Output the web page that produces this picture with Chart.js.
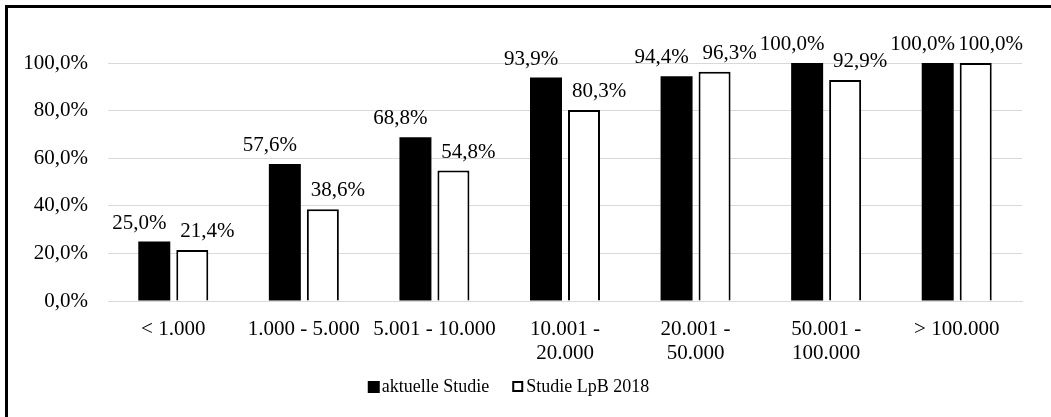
<!DOCTYPE html>
<html lang="de">
<head>
<meta charset="utf-8">
<title>Anteil nach Gemeindegröße</title>
<script src="https://cdn.jsdelivr.net/npm/chart.js@4/dist/chart.umd.min.js"></script>
<style>
  html, body { margin: 0; padding: 0; background: #fff; overflow: hidden; }
  #wrap { position: relative; width: 1051px; height: 417px; }
  #frame {
    position: absolute; left: 5px; top: 5px; width: 1100px; height: 500px;
    border-top: 3px solid #000; border-left: 3px solid #000; pointer-events: none;
  }
  canvas { position: absolute; left: 0; top: 0; }
</style>
</head>
<body>
<div id="wrap">
  <canvas id="chart" width="1051" height="417"></canvas>
  <div id="frame"></div>
</div>
<script>
// Gemeindegrößenklassen (Einwohner)
const categories = [
  '< 1.000',
  '1.000 - 5.000',
  '5.001 - 10.000',
  ['10.001 -', '20.000'],
  ['20.001 -', '50.000'],
  ['50.001 -', '100.000'],
  '> 100.000'
];
const seriesNames = ['aktuelle Studie', 'Studie LpB 2018'];
const aktuelleStudie = [25.0, 57.6, 68.8, 93.9, 94.4, 100.0, 100.0];
const studieLpB2018 = [21.4, 38.6, 54.8, 80.3, 96.3, 92.9, 100.0];
const yTicks = [0, 20, 40, 60, 80, 100];

const FONT = "'Liberation Serif', 'Times New Roman', serif";
const fmt = v => v.toFixed(1).replace('.', ',') + '%';

// Value labels above each bar, nudged apart so neighbouring labels don't collide
const valueLabels = {
  id: 'valueLabels',
  afterDatasetsDraw(chart) {
    const ctx = chart.ctx;
    ctx.save();
    ctx.font = '21px ' + FONT;
    ctx.fillStyle = '#000';
    ctx.textAlign = 'center';
    ctx.textBaseline = 'alphabetic';
    chart.data.datasets.forEach((ds, di) => {
      const meta = chart.getDatasetMeta(di);
      const shift = di === 0 ? -15 : 15;
      meta.data.forEach((bar, i) => {
        ctx.fillText(fmt(ds.data[i]), bar.x + shift, bar.y - 13);
      });
    });
    ctx.restore();
  }
};

// Legend row beneath the category labels
const bottomLegend = {
  id: 'bottomLegend',
  afterDraw(chart) {
    const ctx = chart.ctx;
    ctx.save();
    ctx.font = '18px ' + FONT;
    ctx.textBaseline = 'middle';
    ctx.textAlign = 'left';
    const box = 12, gapText = 2, gapItem = 23;
    const widths = seriesNames.map(n => box + gapText + ctx.measureText(n).width);
    const total = widths[0] + gapItem + widths[1];
    let x = chart.width / 2 - 17 - total / 2;
    const cy = 387;
    seriesNames.forEach((name, i) => {
      if (i === 0) {
        ctx.fillStyle = '#000';
        ctx.fillRect(x, cy - box / 2, box, box);
      } else {
        ctx.fillStyle = '#fff';
        ctx.fillRect(x, cy - box / 2, box - 1, box - 1);
        ctx.strokeStyle = '#000';
        ctx.lineWidth = 2;
        ctx.strokeRect(x + 1, cy - box / 2 + 1, box - 3, box - 3);
      }
      ctx.fillStyle = '#000';
      ctx.fillText(name, x + box + gapText, cy);
      x += widths[i] + gapItem;
    });
    ctx.restore();
  }
};

new Chart(document.getElementById('chart'), {
  type: 'bar',
  data: {
    labels: categories,
    datasets: [
      {
        label: seriesNames[0],
        data: aktuelleStudie,
        backgroundColor: '#000',
        borderColor: '#000',
        borderWidth: 0,
        barPercentage: 0.842,
        categoryPercentage: 0.582
      },
      {
        label: seriesNames[1],
        data: studieLpB2018,
        backgroundColor: '#fff',
        borderColor: '#000',
        borderWidth: 2,
        barPercentage: 0.842,
        categoryPercentage: 0.582
      }
    ]
  },
  options: {
    responsive: false,
    animation: false,
    devicePixelRatio: 1,
    layout: { padding: { left: 0, right: 29, top: 63, bottom: 0 } },
    plugins: {
      legend: { display: false },
      tooltip: { enabled: false }
    },
    scales: {
      x: {
        grid: { display: false, drawTicks: false },
        border: { display: true, color: '#d9d9d9', width: 1 },
        ticks: {
          color: '#000',
          font: { family: FONT, size: 21, lineHeight: 1.143 },
          padding: 16,
          maxRotation: 0,
          autoSkip: false
        },
        afterFit(scale) { scale.height = 116; }
      },
      y: {
        min: 0,
        max: 100,
        afterBuildTicks(scale) { scale.ticks = yTicks.map(v => ({ value: v })); },
        grid: { color: '#d9d9d9', lineWidth: 1, drawTicks: false },
        border: { display: false },
        ticks: {
          color: '#000',
          font: { family: FONT, size: 21 },
          padding: 20,
          callback: v => fmt(v)
        },
        afterFit(scale) { scale.width = 108; }
      }
    }
  },
  plugins: [valueLabels, bottomLegend]
});
</script>
</body>
</html>
